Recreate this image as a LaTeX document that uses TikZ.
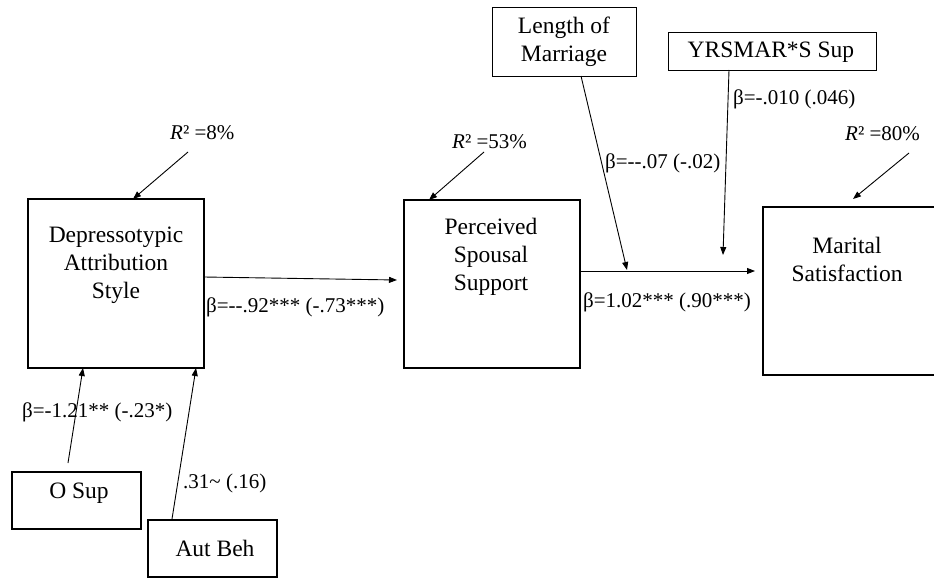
\documentclass[tikz,border=0pt]{standalone}
\usepackage{fontspec}
\setmainfont{Liberation Serif}
\usetikzlibrary{arrows.meta,calc}
\begin{document}
\begin{tikzpicture}[x=1pt,y=-1pt,
 mainbox/.style={draw,line width=2.4pt,anchor=north west,inner sep=0pt,outer sep=0pt},
 smallbox/.style={draw,line width=1.8pt,anchor=north west,inner sep=0pt,outer sep=0pt},
 thinbox/.style={draw,line width=0.9pt,anchor=north west,inner sep=0pt,outer sep=0pt},
 boxtext/.style={font=\fontsize{23.5}{28}\selectfont,align=center,inner sep=0pt},
 lab/.style={font=\fontsize{21}{24}\selectfont,inner sep=0pt,anchor=west},
 arr/.style={-{Triangle[length=8pt,width=6pt]},line width=0.9pt}]
\useasboundingbox (0,0) rectangle (934,578);
\begin{scope}
\clip (0,0) rectangle (934,578);
% boxes
\node[mainbox,minimum width=176pt,minimum height=169pt] (dep) at (28,199) {};
\node[mainbox,minimum width=176pt,minimum height=168pt] (perc) at (404,200) {};
\node[mainbox,minimum width=200pt,minimum height=168pt] (mar) at (763,207) {};
\node[thinbox,minimum width=144pt,minimum height=69pt] (len) at (492,7) {};
\node[thinbox,minimum width=208pt,minimum height=38pt] (yrs) at (668,32) {};
\node[smallbox,minimum width=129pt,minimum height=57pt] (osup) at (12,472) {};
\node[smallbox,minimum width=129pt,minimum height=57pt] (aut) at (148,520) {};
\end{scope}
% box texts
\node[boxtext] (deptext) at (116,265) {Depressotypic\\Attribution\\Style};
\node[boxtext] (perctext) at (491,257) {Perceived\\Spousal\\Support};
\node[boxtext] (martext) at (847,259) {Marital\\Satisfaction};
\node[boxtext] (lentext) at (564,42) {Length of\\Marriage};
\node[boxtext] (yrstext) at (771,52) {YRSMAR*S Sup};
\node[boxtext] (osuptext) at (79,493) {O Sup};
\node[boxtext] (auttext) at (215,548) {Aut Beh};
% labels
\node[lab] (r1) at (170,133) {\textit{R}² =8\%};
\node[lab] (r2) at (452,142) {\textit{R}² =53\%};
\node[lab] (r3) at (845,134) {\textit{R}² =80\%};
\node[lab] (b1) at (206,307) {β=-{}-.92*** (-.73***)};
\node[lab] (b2) at (583,302) {β=1.02*** (.90***)};
\node[lab] (b3) at (605,163) {β=-{}-.07 (-.02)};
\node[lab] (b4) at (733,99) {β=-.010 (.046)};
\node[lab] (b5) at (22,412) {β=-1.21** (-.23*)};
\node[lab] (b6) at (183,483) {.31\textasciitilde{} (.16)};
% free ends of the variance arrows
\coordinate (r1s) at (188,152);
\coordinate (r2s) at (484,152);
\coordinate (r3s) at (909,153);
\coordinate (lenjoin) at (627,270);
\coordinate (yrsjoin) at (723,255);
% connectors
\draw[arr] (r1s) -- ($(dep.north west)+(105,0)$);
\draw[arr] (r2s) -- ($(perc.north west)+(25,0)$);
\draw[arr] (r3s) -- ($(mar.north west)+(90,-8)$);
\draw[arr] ($(dep.north east)+(0,78)$) -- ($(perc.north west)+(-7,80)$);
\draw[arr] ($(perc.north east)+(0,71)$) -- ($(mar.north west)+(-8,64)$);
\draw[arr] ($(len.south west)+(89,0)$) -- (lenjoin);
\draw[arr] ($(yrs.south west)+(61,0)$) -- (yrsjoin);
\draw[arr] ($(osup.north west)+(56,-9)$) -- ($(dep.south west)+(55,0)$);
\draw[arr] ($(aut.north west)+(24,-1)$) -- ($(dep.south west)+(168,0)$);
\end{tikzpicture}
\end{document}
